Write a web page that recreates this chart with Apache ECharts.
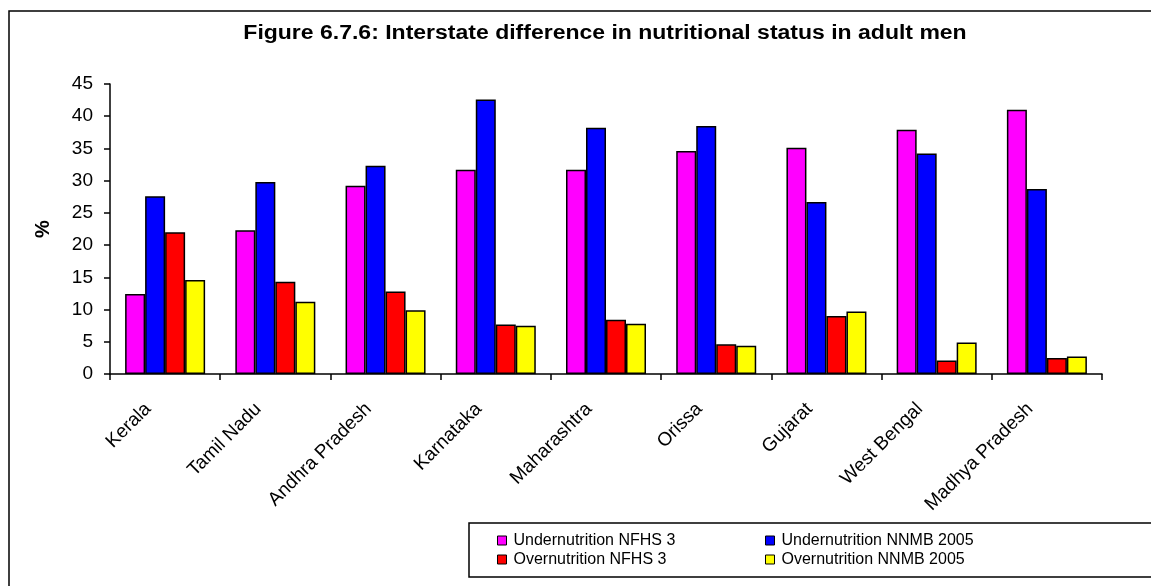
<!DOCTYPE html>
<html>
<head>
<meta charset="utf-8">
<script src="https://cdn.jsdelivr.net/npm/echarts@6/dist/echarts.min.js"></script>
<style>
  html, body { margin: 0; padding: 0; background: #fff; }
  #chart { width: 1151px; height: 586px; }
</style>
</head>
<body>
<div id="chart"></div>
<script>
// States compared in the figure
var states = ['Kerala', 'Tamil Nadu', 'Andhra Pradesh', 'Karnataka', 'Maharashtra',
              'Orissa', 'Gujarat', 'West Bengal', 'Madhya Pradesh'];

// Percentage of adult men in each nutritional category
var underNFHS3 = [12.4, 22.3, 29.2, 31.7, 31.7, 34.6, 35.1, 37.9, 41.0];
var underNNMB2005 = [27.6, 29.8, 32.3, 42.6, 38.2, 38.5, 26.7, 34.2, 28.7];
var overNFHS3 = [22.0, 14.3, 12.8, 7.7, 8.4, 4.6, 9.0, 2.1, 2.5];
var overNNMB2005 = [14.6, 11.2, 9.9, 7.5, 7.8, 4.4, 9.7, 4.9, 2.7];

var seriesNames = ['Undernutrition NFHS 3', 'Undernutrition NNMB 2005',
                   'Overnutrition NFHS 3', 'Overnutrition NNMB 2005'];
var seriesColors = ['#FF00FF', '#0000FF', '#FF0000', '#FFFF00'];
var seriesData = [underNFHS3, underNNMB2005, overNFHS3, overNNMB2005];

var titleText = 'Figure 6.7.6: Interstate difference in nutritional status in adult men';

var FONT = '"Liberation Sans", Arial, sans-serif';

var chart = echarts.init(document.getElementById('chart'), null, { renderer: 'canvas' });

var series = seriesNames.map(function (name, i) {
  return {
    name: name,
    type: 'bar',
    data: seriesData[i],
    barWidth: 20,
    barGap: '0%',
    itemStyle: { color: seriesColors[i], borderColor: '#000', borderWidth: 1.5 },
    animation: false
  };
});

var legendCommon = {
  orient: 'vertical',
  top: 526,
  icon: 'rect',
  itemWidth: 9,
  itemHeight: 9,
  itemGap: 0,
  selectedMode: false,
  itemStyle: { borderColor: '#000', borderWidth: 1 },
  textStyle: { fontFamily: FONT, fontSize: 16, color: '#000', lineHeight: 19, padding: [0, 0, 0, 2] }
};

chart.setOption({
  backgroundColor: '#fff',
  animation: false,
  legend: [
    Object.assign({ left: 492, data: [seriesNames[0], seriesNames[2]] }, legendCommon),
    Object.assign({ left: 760, data: [seriesNames[1], seriesNames[3]] }, legendCommon)
  ],
  grid: { left: 110, right: 49, top: 84, bottom: 212, containLabel: false },
  xAxis: {
    type: 'category',
    data: states,
    axisLine: { lineStyle: { color: '#000', width: 1.5 } },
    axisTick: { show: true, length: 6, lineStyle: { color: '#000', width: 1.5 } },
    axisLabel: {
      rotate: 45,
      margin: 15,
      interval: 0,
      fontFamily: FONT,
      fontSize: 19,
      color: '#000',
      padding: [0, 24, 0, 0]
    }
  },
  yAxis: {
    type: 'value',
    min: 0,
    max: 45,
    interval: 5,
    name: '%',
    nameLocation: 'middle',
    nameGap: 57,
    nameRotate: 90,
    nameTextStyle: { fontFamily: FONT, fontSize: 20, fontWeight: 'bold', color: '#000' },
    axisLine: { show: true, lineStyle: { color: '#000', width: 1.5 } },
    axisTick: { show: true, length: 6, lineStyle: { color: '#000', width: 1.5 } },
    axisLabel: { margin: 17, fontFamily: FONT, fontSize: 19, color: '#000' },
    splitLine: { show: false }
  },
  graphic: [
    {
      type: 'rect',
      shape: { x: 9, y: 11, width: 1160, height: 600 },
      style: { fill: 'none', stroke: '#000', lineWidth: 1.5 },
      silent: true,
      z: -10
    },
    {
      type: 'rect',
      shape: { x: 469, y: 523, width: 700, height: 54 },
      style: { fill: '#fff', stroke: '#000', lineWidth: 1.5 },
      silent: true,
      z: -1
    },
    {
      // chart title, slightly widened
      type: 'text',
      x: 605,
      y: 33,
      scaleX: 1.15,
      style: {
        text: titleText,
        font: 'bold 20px ' + FONT,
        fill: '#000',
        align: 'center',
        verticalAlign: 'middle'
      },
      silent: true
    }
  ],
  series: series
});
</script>
</body>
</html>
